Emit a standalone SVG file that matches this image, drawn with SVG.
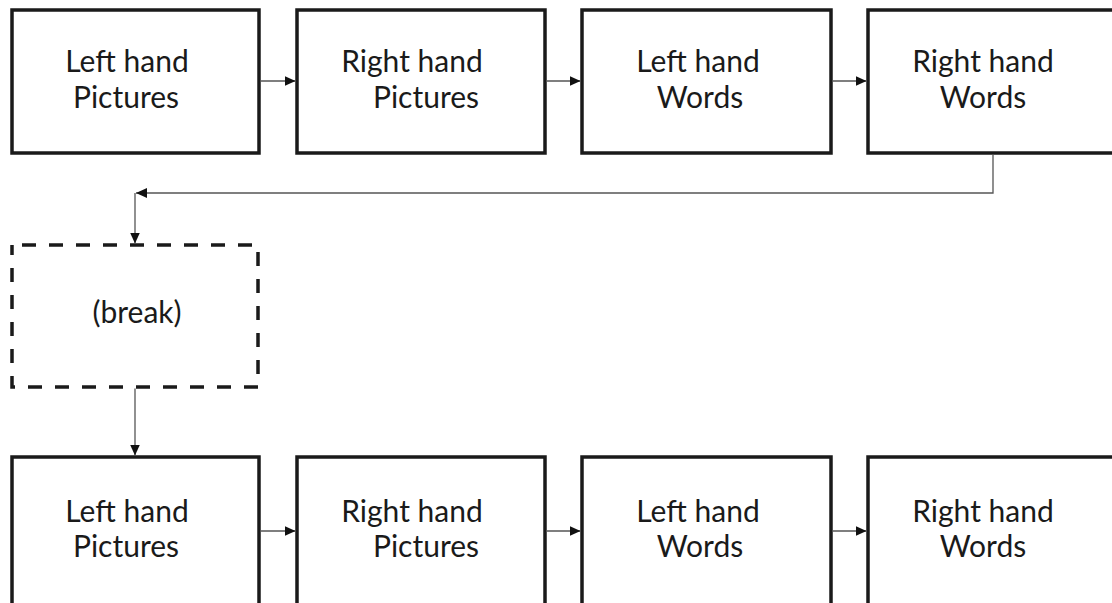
<svg xmlns="http://www.w3.org/2000/svg" width="1112" height="603" viewBox="0 0 1112 603">
  <style>
    .box { fill: #ffffff; stroke: #1a1a1a; stroke-width: 3.5; }
    .dash { fill: #ffffff; stroke: #1a1a1a; stroke-width: 3.5; stroke-dasharray: 14 13; stroke-dashoffset: 17; }
    .lbl { font-family: Lato, "Open Sans", sans-serif; font-size: 30px; fill: #1a1a1a; text-anchor: middle; }
    .con { fill: none; stroke: #555555; stroke-width: 1.3; }
  </style>
  <defs>
    <marker id="arr" markerUnits="userSpaceOnUse" markerWidth="12" markerHeight="11" refX="11" refY="5" orient="auto">
      <path d="M0,0 L11,5 L0,10 z" fill="#111111"/>
    </marker>
  </defs>
  <rect width="1112" height="603" fill="#ffffff"/>

  <g id="n1"><rect class="box" x="12" y="10" width="247" height="143"/>
    <text class="lbl" x="127" y="72">Left hand</text><text class="lbl" x="126" y="108">Pictures</text></g>
  <g id="n2"><rect class="box" x="297" y="10" width="248" height="143"/>
    <text class="lbl" x="412" y="72">Right hand</text><text class="lbl" x="426" y="108">Pictures</text></g>
  <g id="n3"><rect class="box" x="582" y="10" width="249" height="143"/>
    <text class="lbl" x="698" y="72">Left hand</text><text class="lbl" x="700" y="108">Words</text></g>
  <g id="n4"><rect class="box" x="868" y="10" width="249" height="143"/>
    <text class="lbl" x="983" y="72">Right hand</text><text class="lbl" x="983" y="108">Words</text></g>

  <g id="brk"><rect class="dash" x="12" y="245" width="246" height="142"/>
    <text class="lbl" x="137" y="323">(break)</text></g>

  <g id="m1"><rect class="box" x="12" y="457" width="247" height="150"/>
    <text class="lbl" x="127" y="522">Left hand</text><text class="lbl" x="126" y="557">Pictures</text></g>
  <g id="m2"><rect class="box" x="297" y="457" width="248" height="150"/>
    <text class="lbl" x="412" y="522">Right hand</text><text class="lbl" x="426" y="557">Pictures</text></g>
  <g id="m3"><rect class="box" x="582" y="457" width="249" height="150"/>
    <text class="lbl" x="698" y="522">Left hand</text><text class="lbl" x="700" y="557">Words</text></g>
  <g id="m4"><rect class="box" x="868" y="457" width="249" height="150"/>
    <text class="lbl" x="983" y="522">Right hand</text><text class="lbl" x="983" y="557">Words</text></g>

  <g id="connectors">
    <path class="con" d="M260.5,81 H295.5" marker-end="url(#arr)"/>
    <path class="con" d="M546.5,81 H580.5" marker-end="url(#arr)"/>
    <path class="con" d="M832.5,81 H866.5" marker-end="url(#arr)"/>
    <path class="con" d="M993,154.5 V193 H136" marker-end="url(#arr)"/>
    <path class="con" d="M135,193 V243.5" marker-end="url(#arr)"/>
    <path class="con" d="M135,388.5 V455.5" marker-end="url(#arr)"/>
    <path class="con" d="M260.5,531 H295.5" marker-end="url(#arr)"/>
    <path class="con" d="M546.5,531 H580.5" marker-end="url(#arr)"/>
    <path class="con" d="M832.5,531 H866.5" marker-end="url(#arr)"/>
  </g>
</svg>
